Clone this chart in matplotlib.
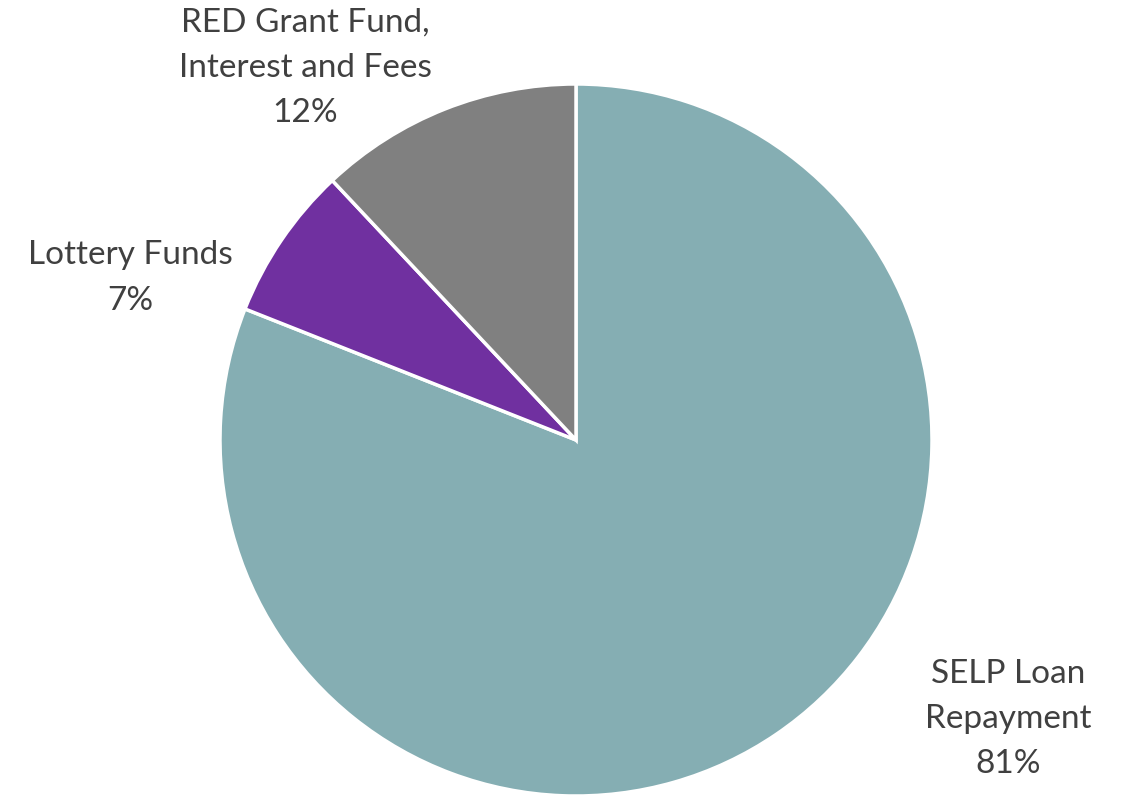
import matplotlib.pyplot as plt

labels = ["SELP Loan\nRepayment", "Lottery Funds", "RED Grant Fund,\nInterest and Fees"]
shares = [81, 7, 12]
colors = ["#85AEB3", "#7030A0", "#808080"]
# label centres (data units, pie radius = 1)
label_pos = [(1.213, -0.784), (-1.253, 0.455), (-0.761, 1.045)]

plt.rcParams['font.family'] = ['Lato', 'DejaVu Sans']

fig = plt.figure(figsize=(11.25, 7.97), dpi=100)
ax = fig.add_axes([0, 0, 1, 1])
ax.pie(shares, colors=colors, startangle=90, counterclock=False, radius=1,
       wedgeprops=dict(edgecolor='white', linewidth=2.5))
for lab, val, (x, y) in zip(labels, shares, label_pos):
    ax.text(x, y, lab + "\n" + str(val) + "%", ha='center', va='center',
            fontsize=24, color='#404040', linespacing=1.63)

# 356 px per unit, centre at (576, 440) px
ax.set_xlim(-576 / 356, (1125 - 576) / 356)
ax.set_ylim(-(797 - 440) / 356, 440 / 356)
ax.set_aspect('auto')
ax.axis('off')
plt.savefig("out.png")
